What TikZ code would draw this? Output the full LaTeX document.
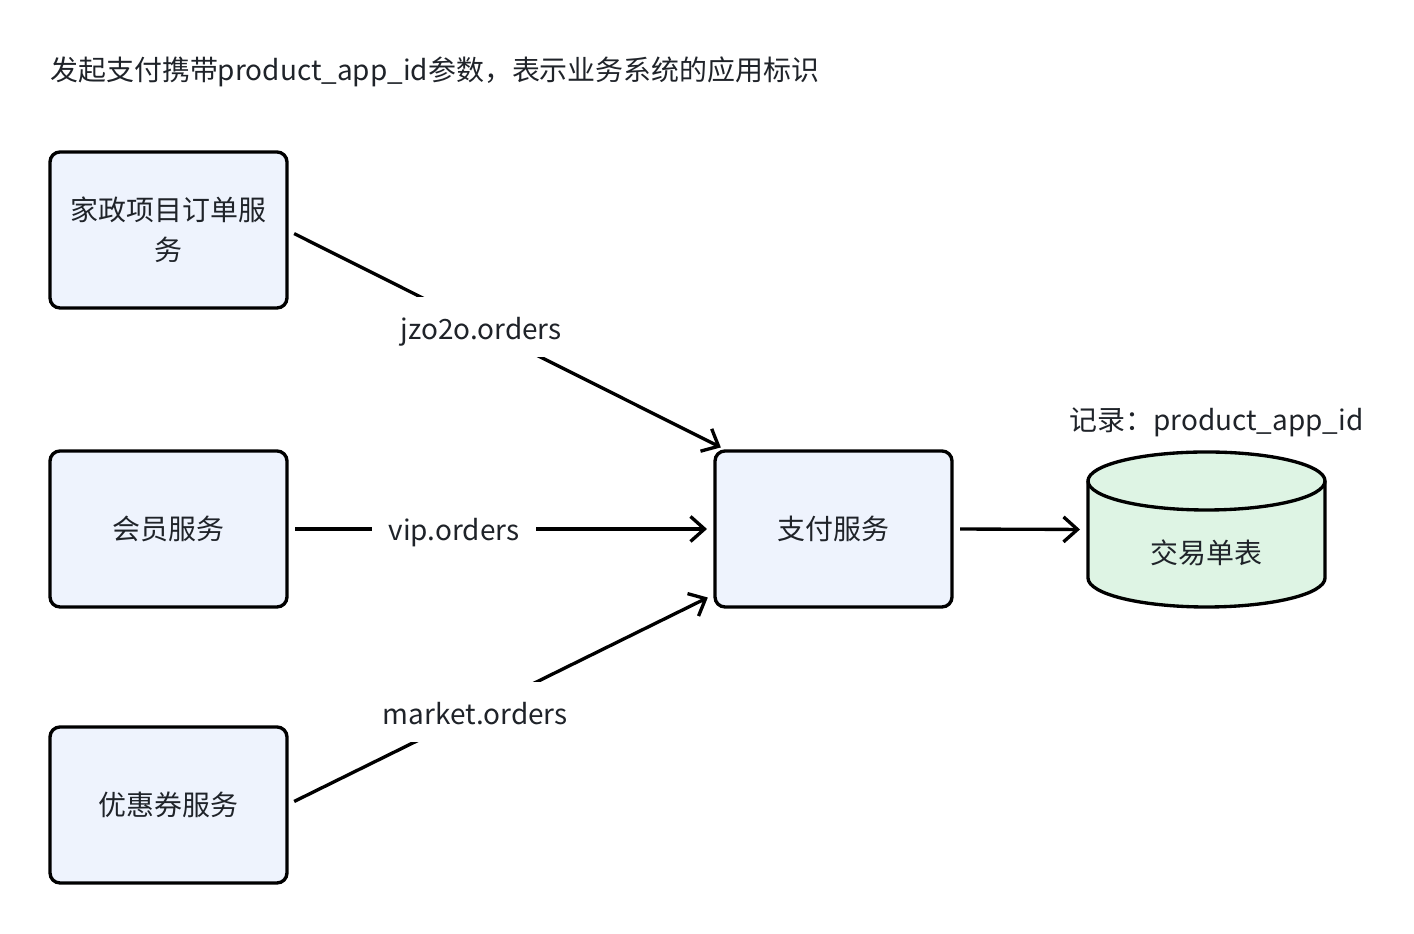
\documentclass[tikz,border=0pt]{standalone}
\usepackage{fontspec}
\setmainfont{Noto Sans CJK SC}
\usetikzlibrary{arrows.meta}
\definecolor{azulcaja}{HTML}{EEF3FD}
\definecolor{verdetabla}{HTML}{DEF4E4}
\definecolor{texto}{HTML}{1F2329}

\begin{document}
\begin{tikzpicture}[
  font=\fontsize{15.9pt}{22.7pt}\selectfont, text=texto,
  servicio/.style={rectangle, rounded corners=0.2cm, draw=black, line width=1.9pt,
    fill=azulcaja, minimum width=4.74cm, minimum height=3.12cm, align=center, outer sep=0pt},
  flecha/.style={line width=1.9pt, -{Straight Barb[length=0.28cm, width=0.5cm]},
    shorten <=0.16cm, shorten >=0.16cm},
  etiqueta/.style={fill=white, inner xsep=0.34cm, minimum height=1.2cm,
    text height=0.6cm, text depth=0.12cm}
]
  \useasboundingbox (0,0) rectangle (28.28,18.68);

  % Titulo
  \node[anchor=west, inner sep=0pt] (titulo) at (1.0,17.24)
    {发起支付携带product\_app\_id参数，表示业务系统的应用标识};

  % Servicios de negocio
  \node[servicio] (jiazheng) at (3.37,14.08) {家政项目订单服\\务};
  \node[servicio] (huiyuan) at (3.37,8.10) {会员服务};
  \node[servicio] (youhui) at (3.37,2.58) {优惠券服务};
  \node[servicio] (zhifu) at (16.67,8.10) {支付服务};

  % Tabla (cilindro)
  \node[minimum width=4.74cm, minimum height=3.1cm, outer sep=0pt] (jiaoyi) at (24.13,8.09) {};
  \draw[line width=1.9pt, fill=verdetabla] (21.76,9.06) -- (21.76,7.12)
    arc[start angle=180, end angle=360, x radius=2.37cm, y radius=0.58cm] -- (26.50,9.06)
    arc[start angle=0, end angle=180, x radius=2.37cm, y radius=0.58cm] -- cycle;
  \draw[line width=1.9pt] (21.76,9.06)
    arc[start angle=180, end angle=360, x radius=2.37cm, y radius=0.58cm];
  \node (jiaoyitexto) at (24.13,7.62) {交易单表};
  \node (registro) at (24.33,10.24) {记录：product\_app\_id};

  % Flechas
  \draw[flecha] (jiazheng.east) -- node[etiqueta, pos=0.44] (l1) {jzo2o.orders} ([xshift=0.26cm]zhifu.north west);
  \draw[flecha] (huiyuan.east) -- node[etiqueta, pos=0.39] (l2) {vip.orders} (zhifu.west);
  \draw[flecha] (youhui.east) -- node[etiqueta, pos=0.44] (l3) {market.orders} ([yshift=0.26cm]zhifu.south west);
  \draw[flecha] (zhifu.east) -- (jiaoyi.west);

\end{tikzpicture}
\end{document}
